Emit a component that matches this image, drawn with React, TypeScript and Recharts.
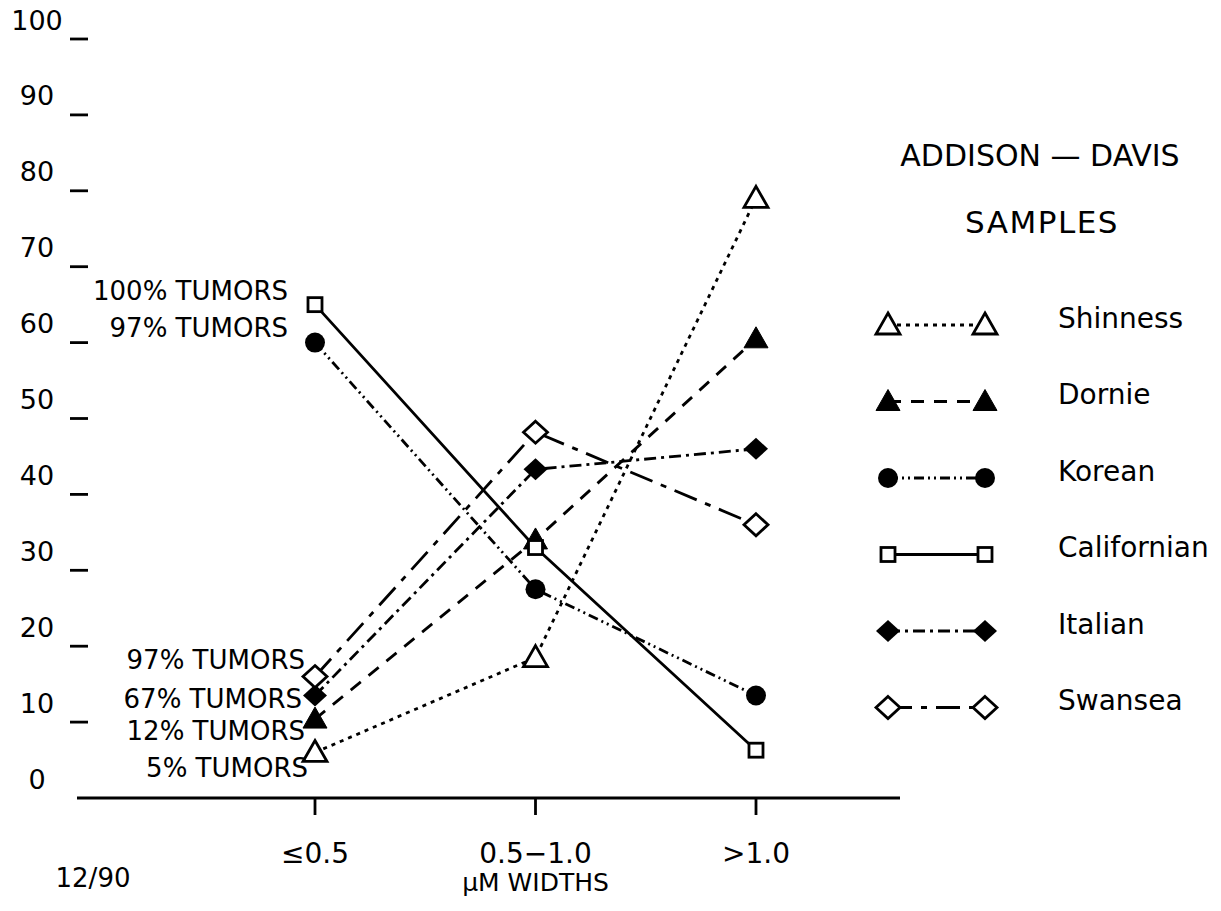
import { LineChart, Line, XAxis, YAxis, Legend } from 'recharts'

// categories and values
const widths = ['≤0.5', '0.5−1.0', '>1.0']
const shinness = [6, 18.5, 79]
const dornie = [10.4, 34, 60.5]
const korean = [60, 27.5, 13.5]
const californian = [65, 33, 6.3]
const italian = [13.5, 43.3, 46]
const swansea = [16, 48.2, 36]

const yTicks = [0, 10, 20, 30, 40, 50, 60, 70, 80, 90, 100]
const sampleNames = ['Shinness', 'Dornie', 'Korean', 'Californian', 'Italian', 'Swansea']
const tumorNotes = ['5% TUMORS', '12% TUMORS', '97% TUMORS', '100% TUMORS', '67% TUMORS', '97% TUMORS']

const FONT = '"DejaVu Sans", sans-serif'
const SW = 2.8

type MarkerKind = 'tri-open' | 'tri-fill' | 'circle' | 'square' | 'dia-fill' | 'dia-open'

interface SeriesStyle {
  name: string
  values: number[]
  note: string
  dash?: string
  marker: MarkerKind
  noteDx: number
  noteDy: number
}

const series: SeriesStyle[] = [
  { name: sampleNames[0], values: shinness, note: tumorNotes[0], dash: '4 5', marker: 'tri-open', noteDx: -7, noteDy: 16 },
  { name: sampleNames[1], values: dornie, note: tumorNotes[1], dash: '13 10', marker: 'tri-fill', noteDx: -10, noteDy: 12 },
  { name: sampleNames[2], values: korean, note: tumorNotes[2], dash: '10 4 2 4 2 4', marker: 'circle', noteDx: -27, noteDy: -15 },
  { name: sampleNames[3], values: californian, note: tumorNotes[3], marker: 'square', noteDx: -27, noteDy: -14 },
  { name: sampleNames[4], values: italian, note: tumorNotes[4], dash: '12 5 3 5', marker: 'dia-fill', noteDx: -13, noteDy: 3 },
  { name: sampleNames[5], values: swansea, note: tumorNotes[5], dash: '24 9 6 9', marker: 'dia-open', noteDx: -10, noteDy: -17 },
]

const data = widths.map((w, i) => {
  const row: Record<string, string | number> = { width: w }
  series.forEach((s) => (row[s.name] = s.values[i]))
  return row
})

function Marker({ kind, cx, cy }: { kind: MarkerKind; cx: number; cy: number }) {
  switch (kind) {
    case 'tri-open':
      return <polygon points={`${cx},${cy - 12} ${cx + 12},${cy + 9} ${cx - 12},${cy + 9}`} fill="#fff" stroke="#000" strokeWidth={SW} />
    case 'tri-fill':
      return <polygon points={`${cx},${cy - 12} ${cx + 12},${cy + 9} ${cx - 12},${cy + 9}`} fill="#000" stroke="#000" strokeWidth={1} />
    case 'circle':
      return <circle cx={cx} cy={cy} r={10} fill="#000" />
    case 'square':
      return <rect x={cx - 7} y={cy - 7} width={14} height={14} fill="#fff" stroke="#000" strokeWidth={SW} />
    case 'dia-fill':
      return <polygon points={`${cx},${cy - 11} ${cx + 12},${cy} ${cx},${cy + 11} ${cx - 12},${cy}`} fill="#000" />
    case 'dia-open':
      return <polygon points={`${cx},${cy - 11} ${cx + 12},${cy} ${cx},${cy + 11} ${cx - 12},${cy}`} fill="#fff" stroke="#000" strokeWidth={SW} />
  }
}

function YTick(props: any) {
  const { x, y, payload } = props
  return (
    <g>
      <text x={x - 40} y={y - 19} textAnchor="middle" dominantBaseline="central" fontFamily={FONT} fontSize={27} fill="#000">
        {payload.value}
      </text>
      {payload.value !== 0 && <line x1={x - 7} x2={x + 11} y1={y} y2={y} stroke="#000" strokeWidth={SW} />}
    </g>
  )
}

function XTick(props: any) {
  const { x, y, payload } = props
  return (
    <g>
      <text x={x} y={y + 38} textAnchor="middle" dominantBaseline="central" fontFamily={FONT} fontSize={28} fill="#000">
        {payload.value}
      </text>
      {payload.value === widths[1] && (
        <text x={x} y={y + 67} textAnchor="middle" dominantBaseline="central" fontFamily={FONT} fontSize={25} fill="#000">
          µM WIDTHS
        </text>
      )}
    </g>
  )
}

function SamplesLegend() {
  // local coords of the legend box (box sits at page 860,130)
  const rowY = (i: number) => 195 + i * 76.5
  return (
    <svg width={361} height={620} style={{ overflow: 'visible', fontFamily: FONT }}>
      <text x={180} y={25} textAnchor="middle" dominantBaseline="central" fontSize={30} fill="#000">
        ADDISON — DAVIS
      </text>
      <text x={182} y={92} textAnchor="middle" dominantBaseline="central" fontSize={31} letterSpacing={1.5} fill="#000">
        SAMPLES
      </text>
      {series.map((s, i) => (
        <g key={s.name}>
          <line x1={28} x2={125} y1={rowY(i)} y2={rowY(i)} stroke="#000" strokeWidth={SW} strokeDasharray={s.dash} />
          <Marker kind={s.marker} cx={28} cy={rowY(i)} />
          <Marker kind={s.marker} cx={125} cy={rowY(i)} />
          <text x={198} y={rowY(i) - 7} dominantBaseline="central" fontSize={28} fill="#000">
            {s.name}
          </text>
        </g>
      ))}
    </svg>
  )
}

export default function App() {
  return (
    <div style={{ position: 'absolute', left: 0, top: 0, width: 1221, height: 911, background: '#fff' }}>
      <LineChart width={1221} height={911} data={data} margin={{ top: 39, right: 321, bottom: 83, left: 7 }}>
        <XAxis
          dataKey="width"
          interval={0}
          padding={{ left: 238, right: 144 }}
          height={30}
          axisLine={{ stroke: '#000', strokeWidth: SW }}
          tickLine={{ stroke: '#000', strokeWidth: SW }}
          tickSize={17}
          tickMargin={0}
          tick={<XTick />}
        />
        <YAxis
          domain={[0, 100]}
          ticks={yTicks}
          width={70}
          axisLine={false}
          tickLine={false}
          tickSize={0}
          tickMargin={0}
          tick={<YTick />}
        />
        <Legend
          layout="horizontal"
          verticalAlign="middle"
          align="center"
          content={() => <SamplesLegend />}
          wrapperStyle={{ position: 'absolute', left: 860, top: 130, width: 361, height: 620 }}
        />
        {series.map((s) => (
          <Line
            key={s.name}
            dataKey={s.name}
            name={s.name}
            type="linear"
            stroke="#000"
            strokeWidth={SW}
            strokeDasharray={s.dash}
            isAnimationActive={false}
            dot={(p: any) => <Marker key={`${s.name}-${p.index}`} kind={s.marker} cx={p.cx} cy={p.cy} />}
            activeDot={false}
            label={(p: any) =>
              p.index === 0 ? (
                <text
                  key={`${s.name}-note`}
                  x={p.x + s.noteDx}
                  y={p.y + s.noteDy}
                  textAnchor="end"
                  dominantBaseline="central"
                  fontFamily={FONT}
                  fontSize={26}
                  fill="#000"
                >
                  {s.note}
                </text>
              ) : (
                <g key={`${s.name}-n${p.index}`} />
              )
            }
          />
        ))}
      </LineChart>
      <svg width={200} height={60} style={{ position: 'absolute', left: 0, top: 850 }}>
        <text x={93} y={28} textAnchor="middle" dominantBaseline="central" fontFamily={FONT} fontSize={26} fill="#000">
          12/90
        </text>
      </svg>
    </div>
  )
}
